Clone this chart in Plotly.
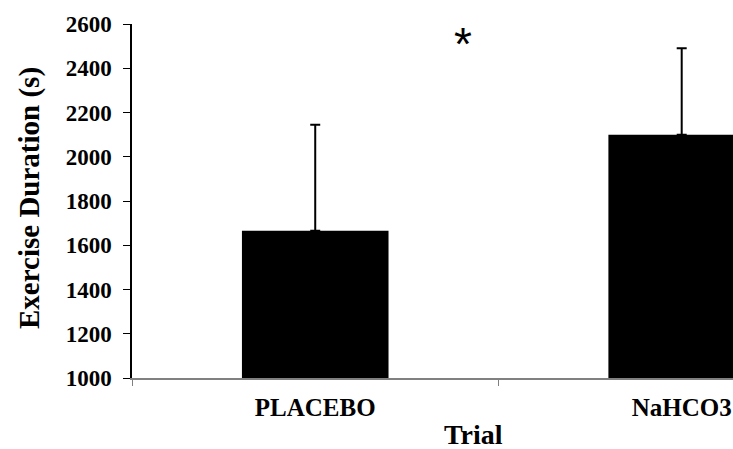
import plotly.graph_objects as go

categories = ["PLACEBO", "NaHCO3"]
means = [1665, 2100]
sd_upper = [480, 390]
y_ticks = [1000, 1200, 1400, 1600, 1800, 2000, 2200, 2400, 2600]

font_serif = "Liberation Serif, Times New Roman, serif"

W, H = 733, 449
L, R, T, B = 132, 0, 24, 71
pw, ph = W - L - R, H - T - B

def px_to_paper(px, py):
    return (px - L) / pw, (H - B - py) / ph

fig = go.Figure()
fig.add_trace(go.Bar(
    x=categories, y=means, width=0.4,
    marker=dict(color="black", line=dict(width=0)),
    error_y=dict(type="data", symmetric=False, array=sd_upper, arrayminus=[0, 0],
                 color="black", thickness=2, width=5),
))

ytx, yty = px_to_paper(29, 198)
trx, trty = px_to_paper(473, 434)
stx, sty = px_to_paper(463, 44)

fig.update_layout(
    width=W, height=H,
    margin=dict(l=L, r=R, t=T, b=B),
    plot_bgcolor="white", paper_bgcolor="white",
    showlegend=False,
    font=dict(family=font_serif, color="black"),
    xaxis=dict(
        type="category", range=[-0.5, 1.14],
        showline=True, linecolor="#808080", linewidth=1.5,
        ticks="outside", tickson="boundaries", ticklen=6, tickcolor="#808080",
        tickfont=dict(family=font_serif, size=25, color="black", weight="bold"),
        ticklabelstandoff=6,
        showgrid=False, zeroline=False,
    ),
    yaxis=dict(
        range=[1000, 2600], tickvals=y_ticks,
        showline=True, linecolor="black", linewidth=1.5,
        ticks="outside", ticklen=7, tickcolor="black",
        tickfont=dict(family=font_serif, size=23, color="black", weight="bold"),
        ticklabelstandoff=7,
        showgrid=False, zeroline=False,
    ),
    annotations=[
        dict(text="Exercise Duration (s)", textangle=-90, x=ytx, y=yty,
             xref="paper", yref="paper", xanchor="center", yanchor="middle",
             showarrow=False,
             font=dict(family=font_serif, size=29, color="black", weight="bold")),
        dict(text="Trial", x=trx, y=trty, xref="paper", yref="paper",
             xanchor="center", yanchor="middle", showarrow=False,
             font=dict(family=font_serif, size=28, color="black", weight="bold")),
        dict(text="*", x=stx, y=sty, xref="paper", yref="paper",
             xanchor="center", yanchor="middle", showarrow=False,
             font=dict(family="Liberation Sans, Arial, sans-serif", size=46, color="black")),
    ],
)
fig.write_html("out.html")
